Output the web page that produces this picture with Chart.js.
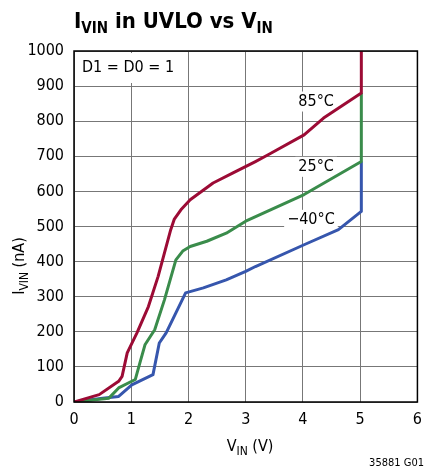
<!DOCTYPE html>
<html>
<head>
<meta charset="utf-8">
<script src="https://cdn.jsdelivr.net/npm/chart.js@4.4.1/dist/chart.umd.min.js"></script>
<style>
  html, body { margin: 0; padding: 0; background: #fff; }
  #wrap { width: 430px; height: 473px; }
</style>
</head>
<body>
<div id="wrap"><canvas id="myChart"></canvas></div>
<script>
// V_IN (V) -> I_VIN (nA)
const v85 = [0, 0.44, 0.78, 0.84, 0.93, 1.10, 1.30, 1.47, 1.69, 1.75, 1.88, 2.03, 2.43, 2.77, 3.17, 3.40, 4.02, 4.36, 5.02, 5.02];
const i85 = [0, 21, 59, 73, 140, 197, 272, 358, 491, 520, 550, 576, 624, 652, 685, 705, 761, 809, 880, 1000];

const v25 = [0, 0.61, 0.78, 1.07, 1.15, 1.24, 1.41, 1.58, 1.78, 1.90, 2.03, 2.32, 2.66, 3.00, 4.02, 5.02, 5.02];
const i25 = [0, 11, 40, 64, 111, 163, 206, 291, 405, 430, 443, 458, 481, 515, 591, 685, 880];

const vm40 = [0, 0.50, 0.78, 1.01, 1.38, 1.49, 1.61, 1.95, 2.26, 2.66, 3.00, 3.17, 4.02, 4.62, 5.02, 5.02];
const im40 = [0, 11, 16, 49, 78, 168, 197, 311, 325, 348, 372, 386, 448, 491, 543, 685];

const xTicks = [0, 1, 2, 3, 4, 5, 6];
const yTicks = [0, 100, 200, 300, 400, 500, 600, 700, 800, 900, 1000];

const seriesNames = ['85°C', '25°C', '−40°C'];
const colors = ['#9c0b35', '#3a8c4b', '#3656ad'];

const narrow = '"DejaVu Sans Condensed", "Liberation Sans Narrow", sans-serif';

function pts(xs, ys) {
  return xs.map((x, k) => ({ x: x, y: ys[k] }));
}

const ctx = document.getElementById('myChart');

const extras = {
  id: 'extras',
  beforeDatasetsDraw(chart) {
    const c = chart.ctx;
    const a = chart.chartArea;
    const sx = chart.scales.x, sy = chart.scales.y;
    c.save();

    // condition box
    c.font = '16px ' + narrow;
    c.textBaseline = 'middle';
    c.textAlign = 'left';
    const cond = 'D1 = D0 = 1';
    const cw = c.measureText(cond).width;
    c.fillStyle = '#fff';
    c.fillRect(a.left + 2, a.top + 2, cw + 14, 30);
    c.fillStyle = '#000';
    c.fillText(cond, a.left + 8, a.top + 17);

    // curve labels
    const labs = [[4.23, 856], [4.23, 670], [4.14, 519]];
    c.textAlign = 'center';
    labs.forEach((l, k) => {
      const px = sx.getPixelForValue(l[0]), py = sy.getPixelForValue(l[1]);
      const tw = c.measureText(seriesNames[k]).width;
      c.fillStyle = '#fff';
      c.fillRect(px - tw / 2 - 3, py - 10, tw + 6, 20);
      c.fillStyle = '#000';
      c.fillText(seriesNames[k], px, py);
    });
    c.restore();
  },
  afterDraw(chart) {
    const c = chart.ctx;
    const a = chart.chartArea;
    c.save();

    // plot frame
    c.strokeStyle = '#000';
    c.lineWidth = 1.5;
    c.strokeRect(a.left, a.top, a.right - a.left, a.bottom - a.top);

    // title with subscripts
    c.fillStyle = '#000';
    c.textBaseline = 'alphabetic';
    c.textAlign = 'left';
    let x = 74;
    const by = 28;
    const big = 'bold 22px ' + narrow, small = 'bold 15px ' + narrow;
    const parts = [['I', big, 0], ['VIN', small, 5], [' in UVLO vs V', big, 0], ['IN', small, 5]];
    parts.forEach(p => {
      c.font = p[1];
      c.fillText(p[0], x, by + p[2]);
      x += c.measureText(p[0]).width;
    });

    // x axis title
    const xParts = [['V', '16px ' + narrow, 0], ['IN', '12px ' + narrow, 4], [' (V)', '16px ' + narrow, 0]];
    let w = 0;
    xParts.forEach(p => { c.font = p[1]; w += c.measureText(p[0]).width; });
    x = 250 - w / 2;
    xParts.forEach(p => {
      c.font = p[1];
      c.fillText(p[0], x, 451 + p[2]);
      x += c.measureText(p[0]).width;
    });

    // y axis title (rotated)
    c.save();
    c.translate(24, 266);
    c.rotate(-Math.PI / 2);
    const yParts = [['I', '16px ' + narrow, 0], ['VIN', '12px ' + narrow, 4], [' (nA)', '16px ' + narrow, 0]];
    w = 0;
    yParts.forEach(p => { c.font = p[1]; w += c.measureText(p[0]).width; });
    x = -w / 2;
    yParts.forEach(p => {
      c.font = p[1];
      c.fillText(p[0], x, p[2]);
      x += c.measureText(p[0]).width;
    });
    c.restore();

    // figure id
    c.font = '11px ' + narrow;
    c.textAlign = 'right';
    c.fillText('35881 G01', 424, 466);
    c.restore();
  }
};

new Chart(ctx, {
  type: 'line',
  data: {
    datasets: [
      { label: seriesNames[0], data: pts(v85, i85), borderColor: colors[0] },
      { label: seriesNames[1], data: pts(v25, i25), borderColor: colors[1] },
      { label: seriesNames[2], data: pts(vm40, im40), borderColor: colors[2] }
    ].map(d => Object.assign(d, { borderWidth: 3, pointRadius: 0, tension: 0, fill: false, borderJoinStyle: 'round' }))
  },
  options: {
    responsive: true,
    maintainAspectRatio: false,
    animation: false,
    layout: { padding: { top: 51, right: 4, left: 0, bottom: 0 } },
    plugins: {
      legend: { display: false },
      tooltip: { enabled: false }
    },
    scales: {
      x: {
        type: 'linear',
        min: 0, max: 6,
        afterBuildTicks: s => { s.ticks = xTicks.map(v => ({ value: v })); },
        afterFit: s => { s.height = 71; },
        grid: { color: '#777', lineWidth: 1, drawTicks: false },
        border: { display: false },
        ticks: { color: '#000', padding: 8, font: { family: narrow, size: 16 }, callback: v => String(v) }
      },
      y: {
        min: 0, max: 1000,
        afterBuildTicks: s => { s.ticks = yTicks.map(v => ({ value: v })); },
        afterFit: s => { s.width = 74; },
        grid: { color: '#777', lineWidth: 1, drawTicks: false },
        border: { display: false },
        ticks: { color: '#000', padding: 10, font: { family: narrow, size: 16 }, callback: v => String(v) }
      }
    }
  },
  plugins: [extras]
});
</script>
</body>
</html>
